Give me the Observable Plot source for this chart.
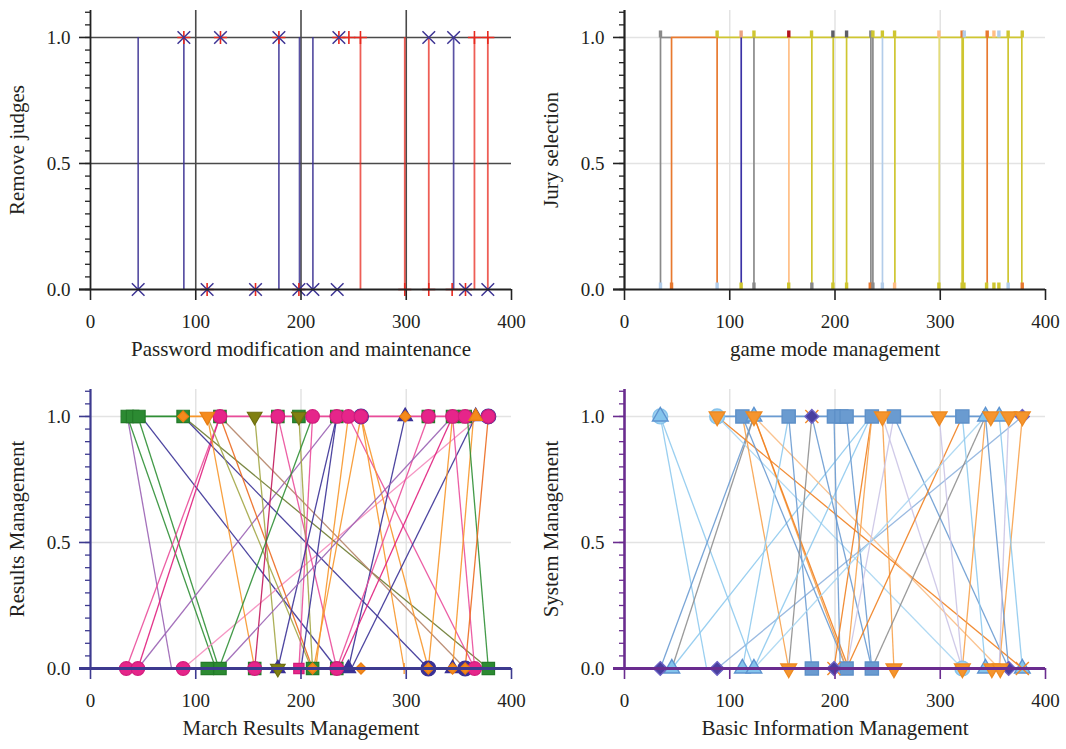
<!DOCTYPE html>
<html>
<head>
<meta charset="utf-8">
<script src="https://cdn.jsdelivr.net/npm/d3@7"></script>
<script src="https://cdn.jsdelivr.net/npm/@observablehq/plot@0.6"></script>
<style>
  html, body { margin: 0; padding: 0; background: #fff; overflow: hidden; }
  #grid { display: grid; grid-template-columns: 533px 533px; grid-template-rows: 379px 370px; width: 1066px; height: 749px; }
  #grid svg { display: block; }
</style>
</head>
<body>
<div id="grid"><div id="p1"></div><div id="p2"></div><div id="p3"></div><div id="p4"></div></div>
<script>
// ---------- shared tick values ----------
const xTicks = [0, 100, 200, 300, 400];
const yTicks = [0, 0.5, 1.0];
const yMinor = [0, 0.05, 0.1, 0.15, 0.2, 0.25, 0.3, 0.35, 0.4, 0.45, 0.5, 0.55, 0.6, 0.65, 0.7, 0.75, 0.8, 0.85, 0.9, 0.95, 1.0, 1.05, 1.1];

// ---------- panel 1: Remove judges ----------
const judgeLabels = ["Password modification and maintenance", "Remove judges"];
const judgeStems = [[45.3, "A"], [88.7, "A"], [179, "A"], [198.6, "A"], [211.3, "A"], [345, "A"],
  [256.5, "B"], [298.6, "B"], [321.4, "B"], [364.8, "B"], [377.5, "B"]];
const judgeMarks = [
  [88.7, 1, "B"], [123.5, 1, "B"], [179, 1, "B"], [236, 1, "B"], [245.5, 1, "B"], [256.5, 1, "B"], [364.8, 1, "B"], [377.5, 1, "B"],
  [110.8, 0, "B"], [156.8, 0, "B"], [198, 0, "B"], [298.6, 0, "B"], [321.4, 0, "B"], [343.6, 0, "B"], [356.3, 0, "B"],
  [88.7, 1, "A"], [123.5, 1, "A"], [179, 1, "A"], [236, 1, "A"], [321.4, 1, "A"], [345, 1, "A"],
  [45.3, 0, "A"], [110.8, 0, "A"], [156.8, 0, "A"], [198, 0, "A"], [211.3, 0, "A"], [234.4, 0, "A"], [356.3, 0, "A"], [377.5, 0, "A"]
];

// ---------- panel 2: Jury selection ----------
const juryLabels = ["game mode management", "Jury selection"];
const juryTopSegs = [[34.2, 44.7, "ash"], [44.7, 88, "amber"], [88, 377.5, "mustard"]];
const juryStems = [[34.2, "ash"], [44.7, "amber"], [88, "amber"], [110.9, "navy"], [123, "ash"], [156.2, "peach"],
  [178, "mustard"], [198.3, "mustard"], [211, "mustard"], [234.1, "ash"], [236, "ash"], [245.1, "sky"],
  [256.9, "mustard"], [299, "pale"], [320.8, "mustard"], [321.8, "mustard"], [344.6, "amber"], [364.5, "mustard"], [377.5, "mustard"]];
const juryMarks = [
  [34.2, 1, "ash"], [88, 1, "mustard"], [110.8, 1, "salmon"], [123, 1, "mustard"], [156.1, 1, "wine"], [177.7, 1, "mustard"],
  [198, 1, "slate"], [211, 1, "slate"], [234, 1, "ash"], [236, 1, "mustard"], [245, 1, "mustard"], [256.6, 1, "mustard"],
  [298.7, 1, "peach"], [320.8, 1, "amber"], [322.8, 1, "sky"], [344.6, 1, "amber"], [351, 1, "peach"], [355.7, 1, "sky"],
  [364.5, 1, "mustard"], [377.9, 1, "mustard"],
  [34.2, 0, "sky"], [44.7, 0, "amber"], [88, 0, "sky"], [110.8, 0, "mustard"], [123, 0, "ash"], [156, 0, "mustard"],
  [178, 0, "ash"], [198, 0, "mustard"], [211, 0, "mustard"], [233.5, 0, "amber"], [236, 0, "ash"], [245, 0, "sky"],
  [256.6, 0, "peach"], [298.7, 0, "mustard"], [320.8, 0, "mustard"], [322.5, 0, "mustard"], [344, 0, "mustard"],
  [351, 0, "mustard"], [355.7, 0, "mustard"], [364.5, 0, "sky"], [377.9, 0, "amber"]
];

// ---------- panel 3: Results Management ----------
const resultsLabels = ["March Results Management", "Results Management"];
const resultsTopSegs = [[35, 88, "green"], [88, 123, "orange"], [123, 378, "pink"]];
// [x at 1.0, x at 0.0, series]
const resultsLinks = [
  [35, 77, "purple"], [35, 119, "green"], [45, 122, "green"], [48, 234, "indigo"],
  [123, 34, "pink"], [123, 45, "magenta"], [234, 45, "purple"], [370, 88, "rose"],
  [88, 321, "indigo"], [88, 378, "olive"], [111, 156, "orange"], [111, 210, "khaki"],
  [123, 211, "rust"], [123, 356, "brown"], [156, 178, "khaki"], [178, 156, "crimson"],
  [178, 234, "pink"], [198, 211, "khaki"], [211, 122, "green"], [211, 198, "pink"],
  [234, 178, "indigo"], [234, 200, "indigo"], [257, 212, "orange"], [245, 214, "orange"],
  [245, 365, "pink"], [257, 321, "orange"], [257, 298, "orange"], [299, 245, "indigo"],
  [321, 234, "pink"], [344, 123, "purple"], [344, 236, "magenta"], [366, 248, "indigo"],
  [344, 365, "pink"], [344, 321, "orange"], [364, 344, "orange"], [358, 378, "green"], [378, 356, "rust"]
];
// [x, y, marker kind]
const resultsMarks = [
  [35, 1, "square"], [40, 1, "square"], [46, 1, "square"], [88, 1, "square"], [123, 1, "square"], [178, 1, "square"],
  [198, 1, "square"], [234, 1, "square"], [321, 1, "square"], [344, 1, "square"], [356, 1, "square"],
  [257, 1, "ring"], [378, 1, "ring"], [299, 1, "triUp"], [366, 1, "triUp"],
  [123, 1, "circle"], [178, 1, "circle"], [211, 1, "circle"], [234, 1, "circle"], [245, 1, "circle"], [257, 1, "circle"],
  [321, 1, "circle"], [344, 1, "circle"], [356, 1, "circle"], [378, 1, "circle"],
  [156, 1, "oliveDown"], [198, 1, "oliveDown"], [88, 1, "diamond"], [299, 1, "diamond"],
  [111, 1, "orangeDown"], [366, 1, "orangeUp"],
  [111, 0, "square"], [123, 0, "square"], [156, 0, "square"], [211, 0, "square"], [234, 0, "square"], [378, 0, "square"],
  [321, 0, "ring"], [356, 0, "ring"], [178, 0, "triUp"], [245, 0, "triUp"], [344, 0, "triUp"],
  [34, 0, "circle"], [45, 0, "circle"], [88, 0, "circle"], [156, 0, "circle"], [234, 0, "circle"], [365, 0, "circle"],
  [198, 0, "pinkSquare"], [178, 0, "oliveDown"],
  [211, 0, "diamond"], [257, 0, "diamond"], [321, 0, "diamond"], [344, 0, "diamond"], [356, 0, "diamond"], [298, 0, "plus"]
];

// ---------- panel 4: System Management ----------
const systemLabels = ["Basic Information Management", "System Management"];
const systemTopSegs = [[88, 378, "steel"]];
const systemLinks = [
  [34, 78, "sky"], [34, 123, "sky"], [123, 34, "steel"], [123, 45, "grey"], [234, 45, "sky"],
  [378, 88, "steelLt"], [88, 378, "tangerine"], [88, 321, "skyLt"],
  [112, 156, "apricot"], [112, 211, "steel"], [123, 211, "apricot"], [123, 213, "tangerine"], [123, 356, "apricotLt"],
  [156, 112, "sky"], [156, 178, "steel"], [178, 156, "grey"], [178, 235, "steel"], [234, 123, "sky"],
  [199, 205, "steel"], [211, 235, "steel"], [235, 199, "tangerine"], [235, 211, "apricot"], [245, 256, "apricot"],
  [245, 321, "lavender"], [256, 211, "lavender"], [256, 365, "steel"], [321, 211, "tangerine"],
  [343, 235, "grey"], [343, 123, "skyLt"], [321, 343, "sky"], [343, 321, "apricot"], [378, 356, "apricot"],
  [343, 365, "steel"], [356, 378, "sky"], [365, 356, "lavender"], [299, 321, "lavender"]
];
const systemMarks = [
  [34, 1, "circle"], [88, 1, "circle"], [321, 0, "circle"],
  [112, 1, "square"], [156, 1, "square"], [199, 1, "square"], [206, 1, "square"], [211, 1, "square"], [235, 1, "square"],
  [256, 1, "square"], [321, 1, "square"], [178, 0, "square"], [211, 0, "square"], [235, 0, "square"],
  [34, 1, "tri"], [123, 1, "tri"], [343, 1, "tri"], [356, 1, "tri"],
  [45, 0, "tri"], [112, 0, "tri"], [123, 0, "tri"], [343, 0, "tri"], [378, 0, "tri"],
  [178, 1, "cross"], [199, 0, "cross"], [378, 0, "cross"],
  [178, 1, "diamond"], [378, 1, "diamond"], [34, 0, "diamond"], [88, 0, "diamond"], [199, 0, "diamond"], [365, 0, "diamond"],
  [88, 1, "down"], [123, 1, "down"], [245, 1, "down"], [299, 1, "down"], [348, 1, "down"], [365, 1, "down"], [378, 1, "down"],
  [156, 0, "down"], [256, 0, "down"], [321, 0, "down"], [349, 0, "down"], [357, 0, "down"]
];

// ---------- styles (not data) ----------
const juryPal = {ash: "#8a8a8a", slate: "#5e5e66", amber: "#e8792f", navy: "#3a32a6", peach: "#ffbe85",
  mustard: "#cfc630", pale: "#e3dc7c", sky: "#b3cdea", wine: "#b3141c", salmon: "#eba27f"};
const resPal = {pink: "#ea4c9a", magenta: "#e01f7d", rose: "#f48bbd", green: "#2f8f35", olive: "#6b7a30",
  khaki: "#a2a645", indigo: "#3a3196", purple: "#9a62b4", orange: "#f7962a", rust: "#ec6a1f", brown: "#b58468", crimson: "#c2185b"};
const sysPal = {sky: "#8fcaee", skyLt: "#a9d6f2", steel: "#6a9bd2", steelLt: "#8fb3de", grey: "#8f8f8f",
  apricot: "#f7a24c", apricotLt: "#f9bd84", tangerine: "#f0801f", lavender: "#cbc4e6"};

const triDown = {draw(c, size) {
  const h = Math.sqrt(size / (3 * Math.sqrt(3)));
  c.moveTo(0, 2 * h); c.lineTo(-Math.sqrt(3) * h, -h); c.lineTo(Math.sqrt(3) * h, -h); c.closePath();
}};
const bar = {draw(c) { c.rect(-1.7, -7, 3.4, 7); }};

const X = d => d[0], Y = d => d[1];
const one = () => 1, zero = () => 0;
const FONT = "'Liberation Serif', 'DejaVu Serif', serif";

function panel(o) {
  const H = o.height;
  return Plot.plot({
    width: 533, height: H,
    marginLeft: o.ml, marginRight: 533 - o.ml - 421, marginTop: 10, marginBottom: H - 289,
    x: {domain: [0, 400]},
    y: {domain: [0, 1.107]},
    style: {fontFamily: FONT, fontSize: "19px", color: "#231f20", background: "white", overflow: "visible"},
    marks: [
      Plot.gridX([100, 200, 300], {stroke: o.grid, strokeOpacity: 1, strokeWidth: o.gridW}),
      Plot.gridY([0.5, 1.0], {stroke: o.grid, strokeOpacity: 1, strokeWidth: o.gridW}),
      ...o.marks,
      Plot.ruleX([0], {stroke: o.axis, strokeWidth: o.yAxisW}),
      Plot.ruleY([0], {stroke: o.axis, strokeWidth: o.xAxisW, insetLeft: -11}),
      Plot.axisY({ticks: yMinor, tickSize: 5, tickFormat: () => "", label: null, stroke: o.axis, strokeWidth: 1.3}),
      Plot.axisY({ticks: yTicks, tickSize: 11, tickPadding: 9, tickFormat: d3.format(".1f"), label: null, stroke: o.axis, strokeWidth: 1.6}),
      Plot.axisX({ticks: xTicks, tickSize: 11, tickPadding: 14, tickFormat: d3.format("d"), label: null, stroke: o.axis, strokeWidth: 1.6}),
      Plot.text([o.labels[0]], {text: d => d, frameAnchor: "bottom", dy: 66, fontSize: 21, fill: "#231f20"}),
      Plot.text([o.labels[1]], {text: d => d, frameAnchor: "left", textAnchor: "middle", dx: -73, rotate: -90, fontSize: 21, fill: "#231f20"})
    ]
  });
}

// Panel 1
const p1 = panel({
  height: 379, ml: 90, grid: "#4a4a4a", gridW: 1.6, axis: "#222", xAxisW: 2, yAxisW: 1.8, labels: judgeLabels,
  marks: [
    Plot.ruleX(judgeStems.filter(d => d[1] === "A"), {x: X, y1: zero, y2: one, stroke: "#3d3494", strokeOpacity: 0.85, strokeWidth: 1.7}),
    Plot.ruleX(judgeStems.filter(d => d[1] === "B"), {x: X, y1: zero, y2: one, stroke: "#e8281e", strokeOpacity: 0.75, strokeWidth: 1.8}),
    Plot.dot(judgeMarks.filter(d => d[2] === "B"), {x: X, y: Y, symbol: "plus", r: 4.3, stroke: "#e8281e", strokeWidth: 1.6}),
    Plot.dot(judgeMarks.filter(d => d[2] === "A"), {x: X, y: Y, symbol: "times", r: 5.8, stroke: "#3d3494", strokeWidth: 1.5})
  ]
});

// Panel 2
const p2 = panel({
  height: 379, ml: 91, grid: "#e3e3e3", gridW: 1.5, axis: "#222", xAxisW: 2.2, yAxisW: 2.2, labels: juryLabels,
  marks: [
    Plot.ruleY(juryTopSegs, {x1: d => d[0], x2: d => d[1], y: one, stroke: d => juryPal[d[2]], strokeWidth: 1.7}),
    Plot.ruleX(juryStems, {x: X, y1: zero, y2: one, stroke: d => juryPal[d[1]], strokeWidth: 1.7}),
    Plot.dot(juryMarks, {x: X, y: Y, symbol: bar, fill: d => juryPal[d[2]], stroke: "none"})
  ]
});

// Panel 3
const resKinds = {
  square: {symbol: "square", r: 7, fill: "#2c8a32", stroke: "#237a29"},
  ring: {symbol: "circle", r: 7.4, fill: "#3a3196", stroke: "#3a3196"},
  triUp: {symbol: "triangle", r: 5.4, fill: "#3a3196", stroke: "#3a3196"},
  circle: {symbol: "circle", r: 6.8, fill: "#e6258a", stroke: "#d11c7c"},
  pinkSquare: {symbol: "square", r: 5.8, fill: "#e6258a", stroke: "#d11c7c"},
  oliveDown: {symbol: triDown, r: 5.4, fill: "#808012", stroke: "#6e6e10"},
  diamond: {symbol: "diamond2", r: 5, fill: "#f58a1c", stroke: "#e87c12"},
  orangeDown: {symbol: triDown, r: 5.4, fill: "#f58a1c", stroke: "#e87c12"},
  orangeUp: {symbol: "triangle", r: 5, fill: "#f58a1c", stroke: "#e87c12"},
  plus: {symbol: "plus", r: 3.6, fill: "none", stroke: "#f58a1c"}
};
const p3 = panel({
  height: 370, ml: 90, grid: "#e3e3e3", gridW: 1.5, axis: "#3d3a8f", xAxisW: 3, yAxisW: 2.2, labels: resultsLabels,
  marks: [
    Plot.ruleY(resultsTopSegs, {x1: d => d[0], x2: d => d[1], y: one, stroke: d => resPal[d[2]], strokeWidth: 1.7}),
    Plot.link(resultsLinks, {x1: d => d[0], y1: one, x2: d => d[1], y2: zero, stroke: d => resPal[d[2]], strokeWidth: 1.3, strokeOpacity: 0.9}),
    ...Object.entries(resKinds).map(([k, s]) =>
      Plot.dot(resultsMarks.filter(d => d[2] === k), {x: X, y: Y, ...s, strokeWidth: 1.2}))
  ]
});

// Panel 4
const sysKinds = {
  circle: {symbol: "circle", r: 7.4, fill: "#9fd2f1", stroke: "#86c2ea"},
  square: {symbol: "square", r: 7.4, fill: "#6a9bd0", stroke: "#5e90c8"},
  tri: {symbol: "triangle", r: 5.8, fill: "#84c4ec", stroke: "#5e93cf"},
  cross: {symbol: "times", r: 6, fill: "none", stroke: "#f08a2a"},
  diamond: {symbol: "diamond2", r: 6.2, fill: "#4a3f9f", stroke: "#6c62c4"},
  down: {symbol: triDown, r: 5.8, fill: "#f5952e", stroke: "#ee8a22"}
};
const p4 = panel({
  height: 370, ml: 91, grid: "#e3e3e3", gridW: 1.5, axis: "#6a2c8f", xAxisW: 3, yAxisW: 2.6, labels: systemLabels,
  marks: [
    Plot.ruleY(systemTopSegs, {x1: d => d[0], x2: d => d[1], y: one, stroke: d => sysPal[d[2]], strokeWidth: 1.7}),
    Plot.link(systemLinks, {x1: d => d[0], y1: one, x2: d => d[1], y2: zero, stroke: d => sysPal[d[2]], strokeWidth: 1.3, strokeOpacity: 0.9}),
    ...Object.entries(sysKinds).map(([k, s]) =>
      Plot.dot(systemMarks.filter(d => d[2] === k), {x: X, y: Y, ...s, strokeWidth: 1.4}))
  ]
});

document.getElementById("p1").append(p1);
document.getElementById("p2").append(p2);
document.getElementById("p3").append(p3);
document.getElementById("p4").append(p4);
</script>
</body>
</html>
